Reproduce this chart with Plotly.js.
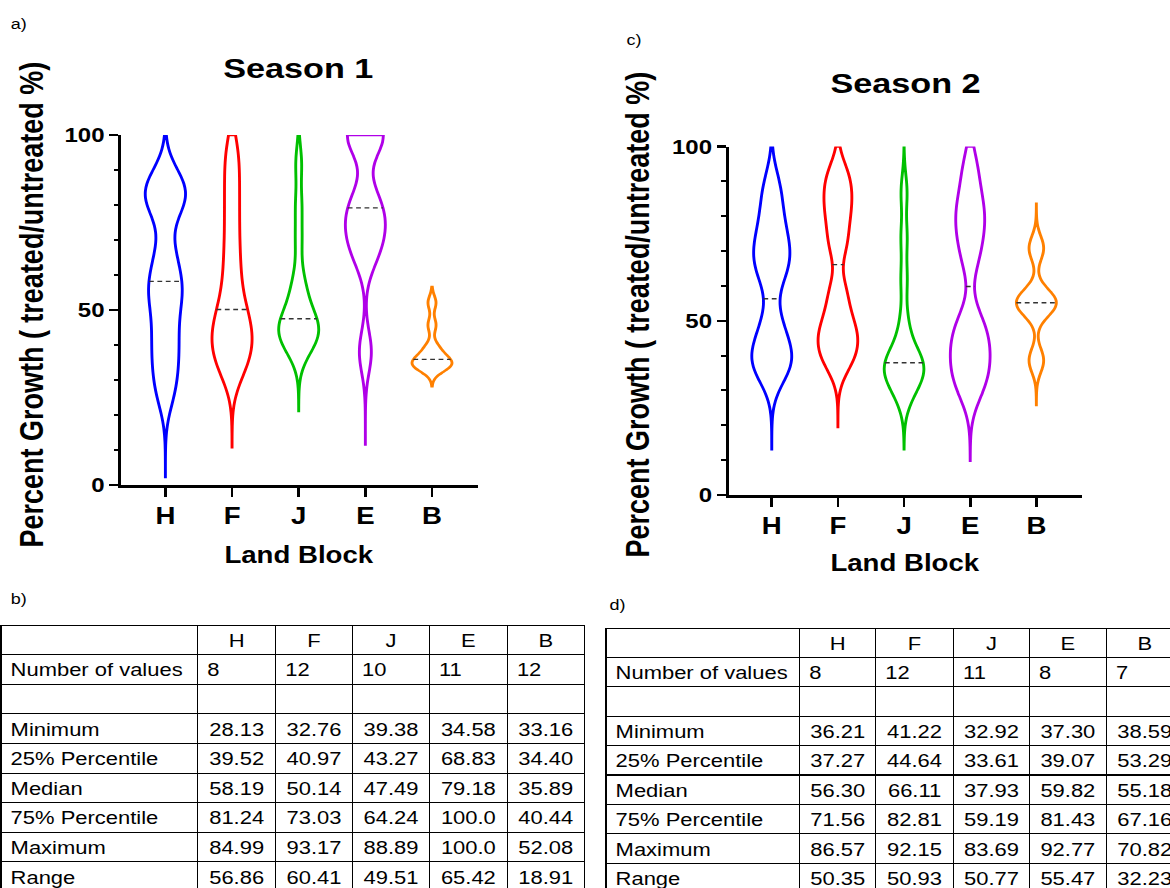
<!DOCTYPE html>
<html><head><meta charset="utf-8">
<script src="https://cdn.plot.ly/plotly-3.0.1.min.js"></script>
<style>
html,body{margin:0;padding:0;overflow:hidden;background:#fff;width:1170px;height:888px;}
#wrap{position:absolute;left:0;top:0;width:988px;height:910px;transform:scaleX(1.2);transform-origin:0 0;}
#chart{width:988px;height:910px;}
</style></head><body><div id="wrap"><div id="chart"></div></div>
<script>
// ---------- data ----------
const blocks = ['H', 'F', 'J', 'E', 'B'];
const blockColors = ['#0000ff', '#ff0000', '#00c000', '#b000e8', '#ff8000'];

// Season 1 raw values (estimated from the violin shapes)
const s1H = [87.5, 84.5, 82, 79.5, 67, 60, 56, 52, 45, 39, 33, 26];
const s1F = [95, 86, 77, 68, 60, 53, 48, 45, 42, 39, 36, 32];
const s1J = [92, 80, 70, 59, 55, 51, 48, 46.5, 45, 44, 43.5, 42, 40, 38];
const s1E = [100, 100, 100, 82, 78, 74, 70, 65, 38];
const s1B = [52.08, 45.7, 39.5, 37.5, 35.89, 34.5, 34.5, 34.5, 33.16];
// Season 2 raw values (estimated)
const s2H = [88, 79, 72, 68, 63, 49, 42, 38, 36];
const s2F = [92, 86, 80, 72, 58, 50, 46, 42, 38];
const s2J = [87, 74, 62, 50, 43, 40, 38, 37, 36, 35, 34, 31, 28];
const s2E = [94, 85, 80, 75, 68, 50, 46, 42, 38, 34, 30];
const s2B = [70.82, 57, 55.18, 53.29, 38.59];

// violin extents and smoothing
const s1SpanLow = [2.3, 10.8, 21.1, 11.2, 28.2];
const s1SpanHigh = [100, 100, 100, 100, 56.6];
const s2SpanLow = [13.1, 19.5, 13.1, 9.8, 25.8];
const s2SpanHigh = [100, 100, 100, 100, 83.6];
const s1Bandwidth = [6, 6, 5, 6, 2];
const s2Bandwidth = [6, 5, 5, 6, 3.5];

// Table b (Season 1)
const statLabels = ['Number of values', '', 'Minimum', '25% Percentile', 'Median', '75% Percentile', 'Maximum', 'Range'];
const s1Count = [8, 12, 10, 11, 12];
const s1Min = [28.13, 32.76, 39.38, 34.58, 33.16];
const s1P25 = [39.52, 40.97, 43.27, 68.83, 34.40];
const s1Median = [58.19, 50.14, 47.49, 79.18, 35.89];
const s1P75 = [81.24, 73.03, 64.24, 100.0, 40.44];
const s1Max = [84.99, 93.17, 88.89, 100.0, 52.08];
const s1Range = [56.86, 60.41, 49.51, 65.42, 18.91];
// Table d (Season 2)
const s2Count = [8, 12, 11, 8, 7];
const s2Min = [36.21, 41.22, 32.92, 37.30, 38.59];
const s2P25 = [37.27, 44.64, 33.61, 39.07, 53.29];
const s2Median = [56.30, 66.11, 37.93, 59.82, 55.18];
const s2P75 = [71.56, 82.81, 59.19, 81.43, 67.16];
const s2Max = [86.57, 92.15, 83.69, 92.77, 70.82];
const s2Range = [50.35, 50.93, 50.77, 55.47, 32.23];

// ---------- geometry helpers ----------
const SX = 1.2, DW = 988, DH = 910, SW = DW * SX;
const fx = X => X / SW;
const fy = Y => 1 - Y / DH;
const VW = 0.6;
const FONT = 'Liberation Sans, Arial, Helvetica, sans-serif';
const NB = s => s.replace(/ /g, '\u00a0');

function kdeHalfWidth(vals, bw, lo, hi, y) {
  const kde = x => vals.reduce((s, v) => s + Math.exp(-0.5 * ((x - v) / bw) ** 2), 0);
  const n = Math.ceil((hi - lo) / (bw / 3));
  let mx = 0;
  for (let k = 0; k <= n; k++) mx = Math.max(mx, kde(lo + k * (hi - lo) / n));
  return (VW / 2) * kde(y) / mx;
}

const traces = [];
const shapes = [];
function addSeason(sets, bws, lows, highs, medians, xa, ya) {
  sets.forEach((vals, i) => {
    traces.push({
      type: 'violin', x0: blocks[i], y: vals, name: blocks[i],
      xaxis: xa, yaxis: ya, bandwidth: bws[i], spanmode: 'manual', span: [lows[i], highs[i]],
      width: VW, scalemode: 'width', points: false, box: {visible: false}, meanline: {visible: false},
      line: {color: blockColors[i], width: 2.4}, fillcolor: 'rgba(0,0,0,0)',
      hoverinfo: 'skip', showlegend: false
    });
    const hw = kdeHalfWidth(vals, bws[i], lows[i], highs[i], medians[i]);
    shapes.push({type: 'line', xref: xa, yref: ya, x0: i - hw, x1: i + hw, y0: medians[i], y1: medians[i],
      line: {color: '#333', width: 1.4, dash: '4px,3px'}});
  });
}
addSeason([s1H, s1F, s1J, s1E, s1B], s1Bandwidth, s1SpanLow, s1SpanHigh, s1Median, 'x', 'y');
addSeason([s2H, s2F, s2J, s2E, s2B], s2Bandwidth, s2SpanLow, s2SpanHigh, s2Median, 'x2', 'y2');

function tableTrace(stats, x0, x1, ytop, colw, rowH) {
  const rows = [stats[0].map(String), blocks.map(() => '')]
    .concat(stats.slice(1).map(a => a.map(v => v.toPrecision(4))));
  const cols = [statLabels.map(NB)];
  for (let j = 0; j < blocks.length; j++) cols.push(rows.map(r => r[j]));
  const align = cols.map((c, j) => c.map((_, i) => (j === 0 || i === 0) ? 'left' : 'center'));
  const font = {family: FONT, size: 18.3, color: '#000'};
  return {
    type: 'table', domain: {x: [fx(x0), fx(x1)], y: [0, fy(ytop)]}, columnwidth: colw,
    header: {values: [''].concat(blocks), align: 'center', height: rowH,
      line: {color: '#000', width: 1}, fill: {color: '#fff'}, font: font},
    cells: {values: cols, align: align, height: rowH,
      line: {color: '#000', width: 1}, fill: {color: '#fff'}, font: font}
  };
}
traces.push(tableTrace([s1Count, s1Min, s1P25, s1Median, s1P75, s1Max, s1Range], 1, 585, 625, [197, 78, 77, 77, 78, 77], 29.6));
traces.push(tableTrace([s2Count, s2Min, s2P25, s2Median, s2P75, s2Max, s2Range], 606, 1184, 628, [194, 76, 78, 76, 77, 77], 29.4));

function xAxis(d0, d1, anchor, r0) {
  return {domain: [fx(d0), fx(d1)], anchor: anchor, type: 'category', categoryorder: 'array', categoryarray: blocks,
    range: [r0, 4.69], showline: true, linecolor: '#000', linewidth: 2.6, ticks: 'outside', ticklen: 9,
    tickwidth: 2.2, tickcolor: '#000',
    tickfont: {family: FONT, size: 23, color: '#000', weight: 'bold'}, showgrid: false, zeroline: false, fixedrange: true};
}
function yAxis(top, bottom, anchor) {
  return {domain: [fy(bottom), fy(top)], anchor: anchor, range: [0, 100], tickmode: 'linear', tick0: 0, dtick: 50,
    showline: true, linecolor: '#000', linewidth: 2.2, ticks: 'outside', ticklen: 7.5, tickwidth: 2.4, tickcolor: '#000',
    minor: {tickmode: 'linear', dtick: 10, ticks: 'outside', ticklen: 4, tickwidth: 2, tickcolor: '#000', showgrid: false},
    tickfont: {family: FONT, size: 20, color: '#000', weight: 'bold'}, showgrid: false, zeroline: false, fixedrange: true};
}

function ann(text, X, Y, size, bold, angle) {
  return {text: text, xref: 'paper', yref: 'paper', x: fx(X), y: fy(Y), xanchor: 'center', yanchor: 'middle',
    showarrow: false, textangle: angle || 0,
    font: {family: FONT, size: size, color: '#000', weight: bold ? 'bold' : 'normal'}};
}

const layout = {
  width: DW, height: DH, margin: {l: 0, r: 0, t: 0, b: 0}, paper_bgcolor: '#fff', plot_bgcolor: '#fff',
  showlegend: false, violinmode: 'overlay',
  xaxis: xAxis(121, 478, 'y', -0.666), yaxis: yAxis(135, 485, 'x'),
  xaxis2: xAxis(728.5, 1082, 'y2', -0.654), yaxis2: yAxis(146.5, 495, 'x2'),
  shapes: shapes,
  annotations: [
    ann('a)', 19, 23, 15, false), ann('b)', 19, 598, 15, false),
    ann('c)', 634, 40, 15, false), ann('d)', 617, 604, 15, false),
    ann('Season 1', 298.5, 68, 28.5, true), ann('Season 2', 905, 83, 28.5, true),
    ann('Percent Growth ( treated/untreated %)', 32, 305, 27, true, -90),
    ann('Percent Growth ( treated/untreated %)', 638, 315, 27, true, -90),
    ann('Land Block', 299, 555, 23, true), ann('Land Block', 905, 563, 23, true)
  ]
};

Plotly.newPlot('chart', traces, layout, {staticPlot: true, displayModeBar: false});
</script></body></html>
